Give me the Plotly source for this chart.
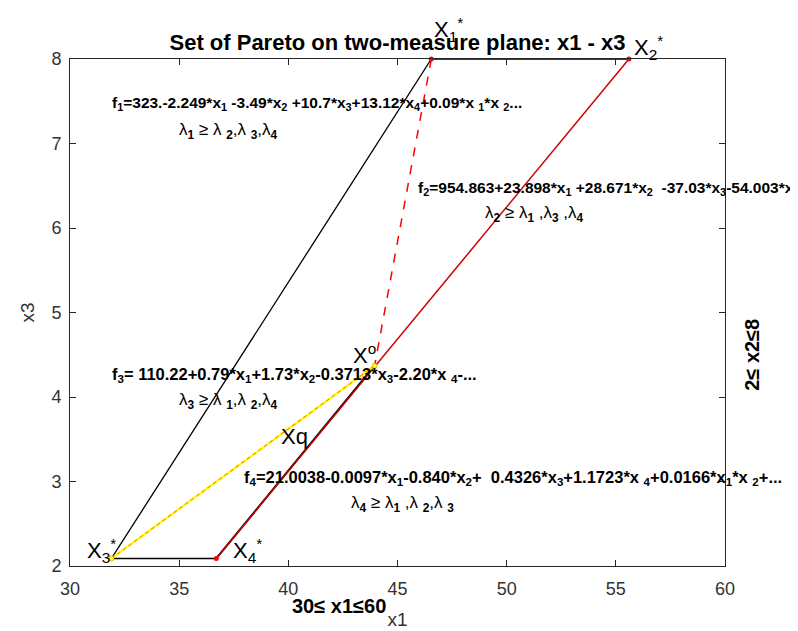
import plotly.graph_objects as go

# Pareto vertices on the x1 - x3 plane
names = ["X1*", "X2*", "X3*", "X4*"]
x1_vals = [46.55, 55.6, 31.9, 36.7]
x3_vals = [8.0, 8.0, 2.09, 2.09]

# compromise point Xo
xo_x1 = 43.95
xo_x3 = 4.37

x_ticks = [30, 35, 40, 45, 50, 55, 60]
y_ticks = [2, 3, 4, 5, 6, 7, 8]

FONT = "Arial, Liberation Sans, sans-serif"

fig = go.Figure()

# black borders of the Pareto set
fig.add_trace(go.Scatter(x=[x1_vals[2], x1_vals[0], x1_vals[1]], y=[x3_vals[2], x3_vals[0], x3_vals[1]],
                         mode="lines", line=dict(color="black", width=1.3)))
fig.add_trace(go.Scatter(x=[x1_vals[2], x1_vals[3]], y=[x3_vals[2], x3_vals[3]],
                         mode="lines", line=dict(color="black", width=1.5)))
fig.add_trace(go.Scatter(x=[x1_vals[3], xo_x1], y=[x3_vals[3], xo_x3],
                         mode="lines", line=dict(color="black", width=2)))
# red edge X4* -> X2*
fig.add_trace(go.Scatter(x=[x1_vals[3], x1_vals[1]], y=[x3_vals[3], x3_vals[1]],
                         mode="lines", line=dict(color="#d00000", width=1.5)))

# dashed line X1* -> Xo
fig.add_trace(go.Scatter(x=[x1_vals[0], xo_x1], y=[x3_vals[0], xo_x3],
                         mode="lines", line=dict(color="red", width=1.5, dash="dash")))

# yellow / orange line X3* -> Xo
fig.add_trace(go.Scatter(x=[x1_vals[2], xo_x1], y=[x3_vals[2], xo_x3],
                         mode="lines", line=dict(color="yellow", width=2.2)))
fig.add_trace(go.Scatter(x=[x1_vals[2], xo_x1], y=[x3_vals[2], xo_x3],
                         mode="lines", line=dict(color="#ff9900", width=1.2, dash="4px,3px")))

# markers
fig.add_trace(go.Scatter(x=[x1_vals[0], x1_vals[1], x1_vals[3]], y=[x3_vals[0], x3_vals[1], x3_vals[3]],
                         mode="markers", marker=dict(color="red", size=5), cliponaxis=False))
fig.add_trace(go.Scatter(x=[x1_vals[2], xo_x1], y=[x3_vals[2], xo_x3],
                         mode="markers", marker=dict(color="yellow", size=5,
                                                     line=dict(color="#d09000", width=0.6)),
                         cliponaxis=False))

big = dict(family=FONT, size=22, color="black")
small = dict(family=FONT, size=15.5, color="black")
wide = dict(family=FONT, size=16.5, color="black")
lam = dict(family=FONT, size=17, color="black")

# point labels: x in data units, y as fraction of the plot height
# (labels above the top of the axes would be hidden with a data y reference)
labels = [
    ("X<sub>1</sub><sup>*</sup>", 47.34, 1.058),
    ("X<sub>2</sub><sup>*</sup>", 56.5, 1.023),
    ("X<sub>3</sub><sup>*</sup>", 31.45, 0.031),
    ("X<sub>4</sub><sup>*</sup>", 38.15, 0.031),
    ("X<sup>o</sup>", 43.5, 0.419),
    ("Xq", 40.3, 0.256),
]
for txt, xx, yy in labels:
    fig.add_annotation(x=xx, y=yy, text=txt, showarrow=False, font=big, xref="x", yref="paper",
                       xanchor="center", yanchor="middle")

formulas = [
    ("<b>f<sub>1</sub>=323.-2.249*x<sub>1</sub> -3.49*x<sub>2</sub> +10.7*x<sub>3</sub>+13.12*x<sub>4</sub>"
     "+0.09*x <sub>1</sub>*x <sub>2</sub>...</b>", 31.85, 7.47, small),
    ("λ<sub><b>1</b></sub> ≥ λ <sub><b>2</b></sub>,λ <sub><b>3</b></sub>,λ<sub><b>4</b></sub>", 34.9, 7.15, lam),
    ("<b>f<sub>2</sub>=954.863+23.898*x<sub>1</sub> +28.671*x<sub>2</sub>  -37.03*x<sub>3</sub>"
     "-54.003*x<sub>4</sub>...</b>", 45.85, 6.47, small),
    ("λ<sub><b>2</b></sub> ≥ λ<sub><b>1</b></sub> ,λ<sub><b>3</b></sub> ,λ<sub><b>4</b></sub>", 48.9, 6.16, lam),
    ("<b>f<sub>3</sub>= 110.22+0.79*x<sub>1</sub>+1.73*x<sub>2</sub>-0.3713*x<sub>3</sub>"
     "-2.20*x <sub>4</sub>-...</b>", 31.85, 4.26, wide),
    ("λ<sub><b>3</b></sub> ≥ λ <sub><b>1</b></sub>,λ <sub><b>2</b></sub>,λ<sub><b>4</b></sub>", 34.9, 3.95, lam),
    ("<b>f<sub>4</sub>=21.0038-0.0097*x<sub>1</sub>-0.840*x<sub>2</sub>+  0.4326*x<sub>3</sub>"
     "+1.1723*x <sub>4</sub>+0.0166*x<sub>1</sub>*x <sub>2</sub>+...</b>", 37.9, 3.04, wide),
    ("λ<sub><b>4</b></sub> ≥ λ<sub><b>1</b></sub> ,λ <sub><b>2</b></sub>,λ <sub><b>3</b></sub>", 42.8, 2.73, lam),
]
for txt, xx, yy, fnt in formulas:
    fig.add_annotation(x=xx, y=yy, text=txt, showarrow=False, font=fnt,
                       xref="x", yref="y", xanchor="left", yanchor="middle")

# constraints
fig.add_annotation(x=0.41, y=-0.078, xref="paper", yref="paper", showarrow=False,
                   xanchor="center", yanchor="middle",
                   text="<b>30≤ x1≤60</b>", font=dict(family=FONT, size=20, color="black"))
fig.add_annotation(x=1.04, y=0.417, xref="paper", yref="paper", showarrow=False, textangle=-90,
                   xanchor="center", yanchor="middle",
                   text="<b>2≤ x2≤8</b>", font=dict(family=FONT, size=20, color="black"))

axis_common = dict(showgrid=False, zeroline=False, showline=True, linecolor="#262626", linewidth=1,
                   mirror="ticks", ticks="inside", ticklen=6, tickcolor="#262626",
                   tickfont=dict(family=FONT, size=18, color="#333333"))

fig.update_xaxes(range=[30, 60], tickvals=x_ticks, ticklabelstandoff=6,
                 title=dict(text="x1", standoff=15, font=dict(family=FONT, size=19, color="#333333")),
                 **axis_common)
fig.update_yaxes(range=[2, 8], tickvals=y_ticks, ticklabelstandoff=4,
                 title=dict(text="x3", standoff=11, font=dict(family=FONT, size=19, color="#333333")),
                 **axis_common)

fig.update_layout(
    width=798, height=631,
    margin=dict(l=62, r=81, t=51, b=64),
    paper_bgcolor="white", plot_bgcolor="white",
    showlegend=False,
    title=dict(text="<b>Set of Pareto on two-measure plane: x1 - x3</b>", x=0.5, xref="paper",
               xanchor="center", y=0.945, yanchor="middle",
               font=dict(family=FONT, size=22, color="black")),
)

fig.write_html("out.html")
